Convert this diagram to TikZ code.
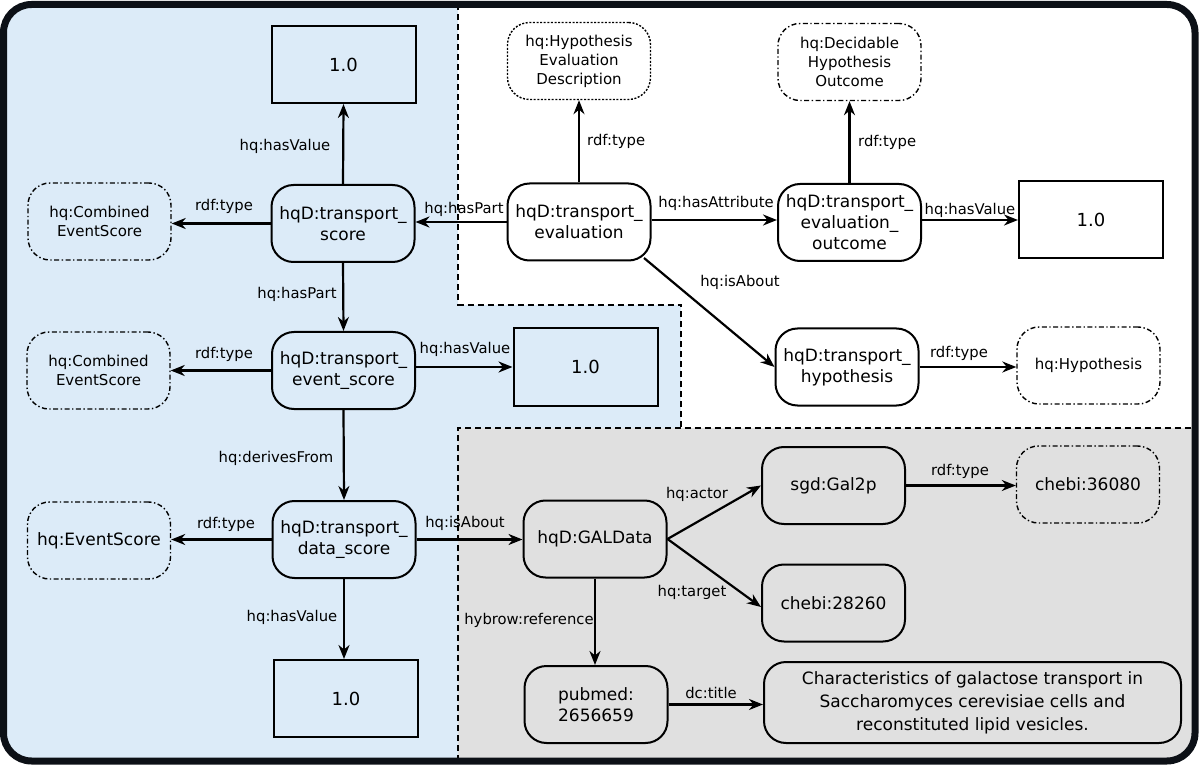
\documentclass[tikz,border=0pt]{standalone}
\usepackage{fontspec}
\setmainfont{DejaVu Sans}
\usetikzlibrary{arrows.meta}
\definecolor{bluebg}{RGB}{220,235,248}
\definecolor{greybg}{RGB}{224,224,224}
\definecolor{framecol}{RGB}{12,16,22}
\tikzset{
 inst/.style={draw, line width=2pt, rounded corners=22pt, minimum width=143pt, minimum height=77pt, align=center, inner sep=2pt, font=\fontsize{17}{21}\selectfont},
 cls/.style={inst, line width=1.4pt, dash pattern=on 5pt off 2.5pt on 1.4pt off 2.5pt, font=\fontsize{15}{19}\selectfont},
 clsdot/.style={cls, dash pattern=on 2pt off 1.6pt},
 val/.style={draw, line width=2pt, minimum width=144pt, minimum height=77pt, font=\fontsize{18}{22}\selectfont},
 lbl/.style={font=\fontsize{14.8}{17}\selectfont, inner sep=0pt},
 arr/.style={line width=2.2pt, -{Stealth[length=14pt,width=11pt,inset=4.5pt]}},
 region/.style={line width=2pt, dash pattern=on 6pt off 4pt},
}
\begin{document}
\begin{tikzpicture}[x=1pt,y=-1pt]
\useasboundingbox (0,0) rectangle (1200,767);
% backgrounds
\begin{scope}
\clip[rounded corners=28pt] (3.5,4.5) rectangle (1195,761);
\fill[white] (0,0) rectangle (1200,767);
\fill[bluebg] (0,0) rectangle (458,767);
\fill[bluebg] (458,305) rectangle (681,428);
\fill[greybg] (458,428) rectangle (1200,767);
\end{scope}
\draw[region] (458,4.5) -- (458,305) -- (681,305) -- (681,428) -- (1195,428);
\draw[region] (458,761) -- (458,428) -- (681,428);
\draw[framecol, line width=7pt, rounded corners=28pt] (3.5,4.5) rectangle (1195,761);

% nodes
\node[val] (v1) at (343.5,64.5) {1.0};
\node[inst] (score) at (343,223.5) {hqD:transport\_\\score};
\node[cls] (cls1) at (99.5,221.5) {hq:Combined\\EventScore};
\node[inst] (eval) at (579,222) {hqD:transport\_\\evaluation};
\node[clsdot] (hed) at (579,61) {hq:Hypothesis\\Evaluation\\Description};
\node[inst] (outcome) at (849.5,222.5) {hqD:transport\_\\evaluation\_\\outcome};
\node[cls] (dho) at (849.5,62) {hq:Decidable\\Hypothesis\\Outcome};
\node[val] (v2) at (1091,220) {1.0};
\node[inst] (hyp) at (847,367) {hqD:transport\_\\hypothesis};
\node[cls] (hqhyp) at (1088.5,365.5) {hq:Hypothesis};
\node[inst] (evs) at (343.5,370.5) {hqD:transport\_\\event\_score};
\node[cls] (cls2) at (98.5,370.5) {hq:Combined\\EventScore};
\node[val] (v3) at (585.5,367) {1.0};
\node[inst] (ds) at (344,539.5) {hqD:transport\_\\data\_score};
\node[cls, font=\fontsize{17}{21}\selectfont] (es) at (99,540.5) {hq:EventScore};
\node[val] (v4) at (346,698.5) {1.0};
\node[inst] (gal) at (595,539) {hqD:GALData};
\node[inst] (gal2p) at (833.5,485.5) {sgd:Gal2p};
\node[cls, font=\fontsize{17}{21}\selectfont] (c36080) at (1088,484.5) {chebi:36080};
\node[inst] (c28260) at (833.5,603) {chebi:28260};
\node[inst] (pubmed) at (596,704.5) {pubmed:\\2656659};
\node[inst, minimum width=417pt, minimum height=81pt, font=\fontsize{17}{23}\selectfont] (title) at (972.5,702.5) {Characteristics of galactose transport in\\Saccharomyces cerevisiae cells and\\reconstituted lipid vesicles.};

% connectors
\draw[arr] (score.north) -- (v1.south);
\draw[arr] (score.west) -- (score.west -| cls1.east);
\draw[arr] (eval.west) -- (eval.west -| score.east);
\draw[arr] (eval.north) -- (hed.south);
\draw[arr] (eval.east |- 0,220) -- (outcome.west |- 0,220);
\draw[arr] (outcome.north) -- (dho.south);
\draw[arr] (outcome.east |- v2.west) -- (v2.west);
\draw[arr] (eval.center) ++(65,36) -- (hyp.west);
\draw[arr] (hyp.east) -- (hyp.east -| hqhyp.west);
\draw[arr] (score.south) -- (evs.north);
\draw[arr] (evs.west) -- (evs.west -| cls2.east);
\draw[arr] (evs.east |- v3.west) -- (v3.west);
\draw[arr] (evs.south) -- (ds.north);
\draw[arr] (ds.west) -- (ds.west -| es.east);
\draw[arr] (ds.east) -- (ds.east -| gal.west);
\draw[arr] (ds.south) -- (ds.south |- v4.north);
\draw[arr] (gal.east) -- (gal2p.west);
\draw[arr] (gal.east) -- ([yshift=-4pt]c28260.west);
\draw[arr] (gal2p.east) -- (gal2p.east -| c36080.west);
\draw[arr] (gal.south) -- (gal.south |- pubmed.north);
\draw[arr] (pubmed.east) -- (pubmed.east -| title.west);

% labels
\node[lbl] (l1) at (285,146) {hq:hasValue};
\node[lbl] (l2) at (224,206) {rdf:type};
\node[lbl] (l3) at (464,209) {hq:hasPart};
\node[lbl, anchor=west] (l4) at (587,141) {rdf:type};
\node[lbl] (l5) at (716,203) {hq:hasAttribute};
\node[lbl, anchor=west] (l6) at (858,142) {rdf:type};
\node[lbl] (l7) at (970,210) {hq:hasValue};
\node[lbl] (l8) at (740,282) {hq:isAbout};
\node[lbl] (l9) at (959,353) {rdf:type};
\node[lbl] (l10) at (297,294) {hq:hasPart};
\node[lbl] (l11) at (224,354) {rdf:type};
\node[lbl] (l12) at (465,349) {hq:hasValue};
\node[lbl] (l13) at (276,458) {hq:derivesFrom};
\node[lbl] (l14) at (226,524) {rdf:type};
\node[lbl] (l15) at (465,523) {hq:isAbout};
\node[lbl] (l16) at (292,617) {hq:hasValue};
\node[lbl] (l17) at (697,494) {hq:actor};
\node[lbl] (l18) at (692,592) {hq:target};
\node[lbl] (l19) at (960,471) {rdf:type};
\node[lbl] (l20) at (529,620) {hybrow:reference};
\node[lbl] (l21) at (711,693) {dc:title};
\end{tikzpicture}
\end{document}
